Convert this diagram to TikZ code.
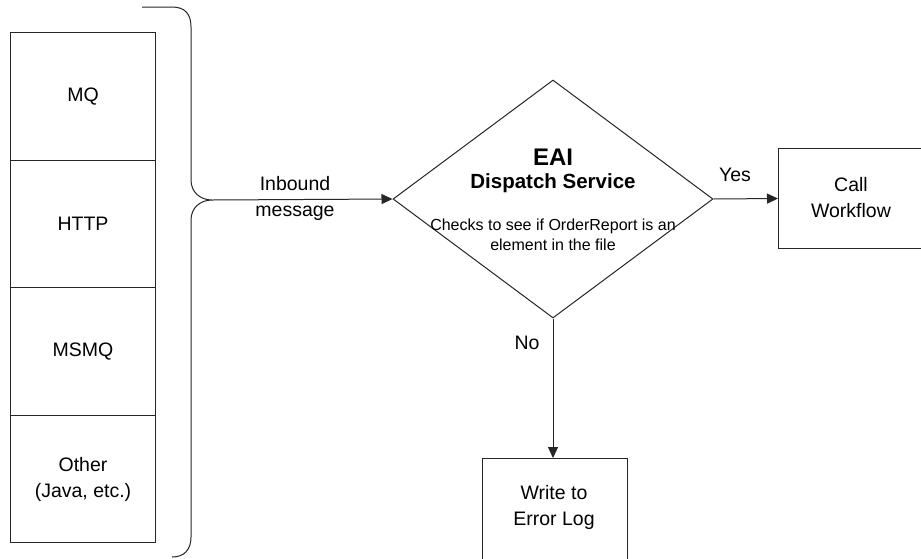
\documentclass[tikz,border=0pt]{standalone}
\usepackage{fontspec}
\setmainfont{Liberation Sans}
\usetikzlibrary{shapes.geometric,arrows.meta}
\begin{document}
\begin{tikzpicture}[x=1pt,y=-1pt,
  line/.style={draw=black!85,line width=1pt},
  arr/.style={line,-{Triangle[length=11pt,width=10pt]}},
  lbl/.style={font=\fontsize{19.5}{26}\selectfont,align=center,inner sep=0pt},
  small/.style={font=\fontsize{16}{20}\selectfont,align=center,inner sep=0pt},
  stackbox/.style={line,rectangle,minimum width=145pt,minimum height=127.5pt,inner sep=0pt,anchor=north west}]
\useasboundingbox (0,0) rectangle (921,558);
\clip (0,0) rectangle (921,558);
\fill[white] (0,0) rectangle (921,558);
% left stack
\node[stackbox] (mq) at (10,32) {};
\node[stackbox] (http) at (10,159.5) {};
\node[stackbox] (msmq) at (10,287) {};
\node[stackbox] (other) at (10,414.5) {};
\node[lbl] (tmq) at (mq.center) {MQ};
\node[lbl] (thttp) at (http.center) {HTTP};
\node[lbl] (tmsmq) at (msmq.center) {MSMQ};
\node[lbl] (tother) at ([yshift=-1pt]other.center) {Other\\(Java, etc.)};
% brace
\coordinate (btip) at (212,200);
\draw[line] (142,7) -- (172,7) .. controls (185,7) and (191,14) .. (191,27) -- (191,180)
  .. controls (191,192) and (200,200) .. (btip)
  .. controls (200,200) and (191,208) .. (191,220) -- (191,537)
  .. controls (191,550) and (184,557) .. (172,557);
% diamond
\node[line,diamond,minimum width=320pt,minimum height=238pt,inner sep=0pt] (dia) at (553,199) {};
\node[font=\fontsize{24}{28}\selectfont\bfseries,inner sep=0pt] (eai) at (553,157) {EAI};
\node[font=\fontsize{20.5}{24}\selectfont\bfseries,inner sep=0pt] (disp) at (553,183) {Dispatch Service};
\node[small] (chk) at (553,235) {Checks to see if OrderReport is an\\element in the file};
% boxes
\node[line,rectangle,minimum width=150pt,minimum height=100pt,anchor=north west,inner sep=0pt] (call) at (778,148) {};
\node[lbl] (tcall) at (851,198) {Call\\Workflow};
\node[line,rectangle,minimum width=145pt,minimum height=120pt,anchor=north west,inner sep=0pt] (err) at (482,458) {};
\node[lbl] (terr) at (554,507) {Write to\\Error Log};
% connectors
\draw[arr] (btip) -- (dia.west);
\node[lbl] (inb) at (295,198) {Inbound\\message};
\draw[arr] (dia.east) -- (call.west);
\node[lbl] (yes) at (735,175) {Yes};
\draw[arr] (dia.south) -- (dia.south |- err.north);
\node[lbl] (no) at (527,343) {No};
\end{tikzpicture}
\end{document}
